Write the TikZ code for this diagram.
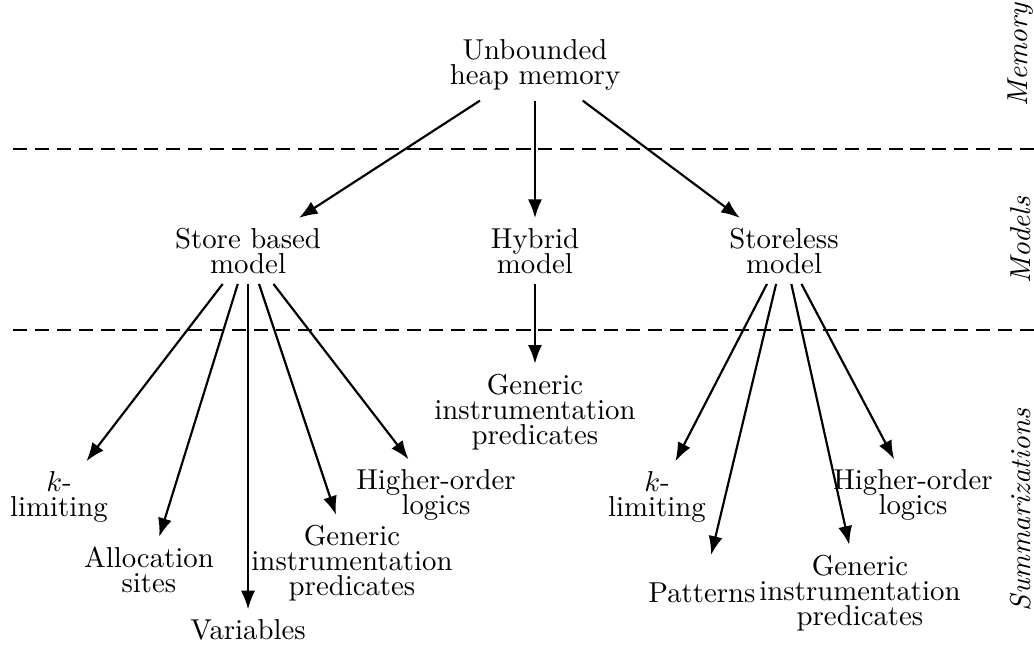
\documentclass[tikz,border=0pt]{standalone}
\usetikzlibrary{arrows.meta}

\begin{document}
\begin{tikzpicture}[txt/.style={shape=rectangle,align=center,font={\fontsize{10pt}{8.7pt}\selectfont\lineskiplimit-10pt}},
lvl/.style={shape=rectangle,rotate=90,font=\itshape},
arr/.style={-{Latex[length=6.5pt,width=4.9pt]},draw=black,line width=0.75pt},
sep/.style={draw=black,line width=0.9pt,dash pattern=on 4.9pt off 2.7pt}]
\useasboundingbox (0,0) rectangle (12.619,7.908);

\node[txt] (0) at (6.529,7.115) {Unbounded\\heap memory};
\node[txt] (1) at (3.027,4.845) {Store based\\model};
\node[txt] (2) at (6.529,4.845) {Hybrid\\model};
\node[txt] (3) at (9.568,4.845) {Storeless\\model};
\node[txt] (4) at (0.720,1.843) {$k$-\\limiting};
\node[txt] (5) at (1.818,0.952) {Allocation\\sites};
\node[txt] (6) at (3.027,0.220) {Variables};
\node[txt] (7) at (4.296,1.037) {Generic\\instrumentation\\predicates};
\node[txt] (8) at (5.321,1.867) {Higher-order\\logics};
\node[txt] (9) at (6.529,2.880) {Generic\\instrumentation\\predicates};
\node[txt] (10) at (8.018,1.843) {$k$-\\limiting};
\node[txt] (11) at (8.567,0.671) {Patterns};
\node[txt] (12) at (10.495,0.671) {Generic\\instrumentation\\predicates};
\node[txt] (13) at (11.142,1.867) {Higher-order\\logics};

\node[lvl] (14) at (12.460,7.237) {Memory};
\node[lvl] (15) at (12.460,4.979) {Models};
\node[lvl] (16) at (12.460,1.684) {Summarizations};

\draw[sep] (0.159,6.090) -- (12.619,6.090);
\draw[sep] (0.159,3.881) -- (12.619,3.881);

\path [arr] (0) edge (1);
\path [arr] (0) edge (2);
\path [arr] (0) edge (3);
\path [arr] (1) edge (4);
\path [arr] (1) edge (5);
\path [arr] (1) edge (6);
\path [arr] (1) edge (7);
\path [arr] (1) edge (8);
\path [arr] (2) edge (9);
\path [arr] (3) edge (10);
\path [arr,shorten >=6.4pt] (3) edge (11);
\path [arr] (3) edge (12);
\path [arr] (3) edge (13);
\end{tikzpicture}
\end{document}
